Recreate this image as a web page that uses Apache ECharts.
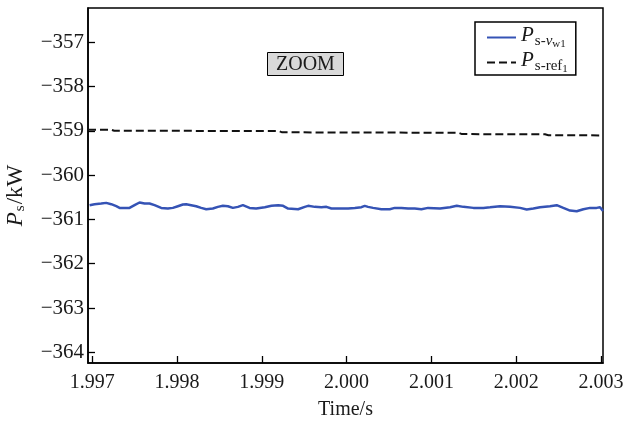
<!DOCTYPE html>
<html>
<head>
<meta charset="utf-8">
<script src="https://cdn.jsdelivr.net/npm/echarts@6/dist/echarts.min.js"></script>
<style>
  html, body { margin: 0; padding: 0; background: #fff; }
  #chart { width: 623px; height: 428px; }
</style>
</head>
<body>
<div id="chart"></div>
<script>
// Time samples (s) and measured power (kW) of the v_w1 case
const timeVw1 = [
  1.996969, 1.997027, 1.997106, 1.997165, 1.997224, 1.997283, 1.997322, 1.997440,
  1.997499, 1.997558, 1.997617, 1.997676, 1.997735, 1.997813, 1.997892, 1.997951,
  1.998010, 1.998069, 1.998108, 1.998167, 1.998226, 1.998285, 1.998344, 1.998423,
  1.998482, 1.998541, 1.998600, 1.998659, 1.998718, 1.998777, 1.998855, 1.998933,
  1.999035, 1.999114, 1.999193, 1.999251, 1.999310, 1.999428, 1.999507, 1.999546,
  1.999625, 1.999703, 1.999762, 1.999821, 1.999939, 2.000018, 2.000097, 2.000175,
  2.000214, 2.000253, 2.000312, 2.000410, 2.000509, 2.000568, 2.000646, 2.000725,
  2.000804, 2.000882, 2.000961, 2.001102, 2.001220, 2.001299, 2.001377, 2.001495,
  2.001613, 2.001692, 2.001810, 2.001928, 2.002046, 2.002124, 2.002203, 2.002281,
  2.002399, 2.002478, 2.002556, 2.002635, 2.002714, 2.002792, 2.002871, 2.002949,
  2.002989, 2.003024
];
const powerVw1 = [
  -360.679, -360.657, -360.642, -360.627, -360.657, -360.702, -360.740, -360.740,
  -360.679, -360.619, -360.642, -360.642, -360.679, -360.740, -360.755, -360.740,
  -360.702, -360.664, -360.657, -360.679, -360.702, -360.740, -360.770, -360.755,
  -360.717, -360.694, -360.702, -360.740, -360.717, -360.679, -360.740, -360.755,
  -360.725, -360.694, -360.679, -360.694, -360.755, -360.770, -360.717, -360.694,
  -360.717, -360.725, -360.717, -360.755, -360.755, -360.755, -360.740, -360.725,
  -360.694, -360.717, -360.740, -360.770, -360.770, -360.740, -360.740, -360.755,
  -360.755, -360.770, -360.740, -360.755, -360.725, -360.694, -360.717, -360.740,
  -360.740, -360.725, -360.702, -360.717, -360.740, -360.777, -360.755, -360.725,
  -360.702, -360.679, -360.740, -360.800, -360.815, -360.770, -360.740, -360.740,
  -360.725, -360.810
];

// Reference power (kW), a slowly stepping set-point
const timeRef = [
  1.996950, 1.997220, 1.997260, 1.999200, 1.999240, 2.000300, 2.001320, 2.001360,
  2.002340, 2.002380, 2.003024
];
const powerRef = [
  -358.975, -358.975, -359.000, -359.005, -359.035, -359.040, -359.045, -359.075,
  -359.080, -359.100, -359.105
];

// Axis ticks
const xTicks = [1.997, 1.998, 1.999, 2.000, 2.001, 2.002, 2.003];
const yTicks = [-364, -363, -362, -361, -360, -359, -358, -357];

const pairUp = (xs, ys) => xs.map((x, i) => [x, ys[i]]);

const SERIF = '"Liberation Serif", "DejaVu Serif", serif';
const INK = '#1a1a1a';

const chart = echarts.init(document.getElementById('chart'), null, { renderer: 'canvas' });

// Legend labels: italic P sits at the top of the row, subscripts sink to its bottom
const LH = 25;
const subRich = {
  p:  { fontFamily: SERIF, fontStyle: 'italic', fontSize: 21, color: INK, lineHeight: LH, verticalAlign: 'top' },
  s:  { fontFamily: SERIF, fontSize: 15, color: INK, lineHeight: LH, verticalAlign: 'bottom', padding: [0, 0, 1, 1] },
  si: { fontFamily: SERIF, fontSize: 15, fontStyle: 'italic', color: INK, lineHeight: LH, verticalAlign: 'bottom', padding: [0, 0, 1, 0] },
  ss: { fontFamily: SERIF, fontSize: 11, color: INK, lineHeight: LH, verticalAlign: 'bottom' }
};

chart.setOption({
  animation: false,
  backgroundColor: '#fff',
  title: {
    text: 'ZOOM',
    left: 267,
    top: 52,
    padding: [2, 9, 1, 9],
    backgroundColor: '#d9d9d9',
    borderColor: '#000',
    borderWidth: 1,
    textStyle: { fontFamily: SERIF, fontSize: 20, fontWeight: 'normal', color: INK, lineHeight: 21 }
  },
  legend: {
    orient: 'vertical',
    left: 475,
    top: 22,
    padding: [3, 8, 0, 11],
    itemGap: 0,
    itemWidth: 29,
    itemHeight: 14,
    borderColor: '#000',
    borderWidth: 1.5,
    backgroundColor: '#fff',
    itemStyle: { opacity: 0 },
    data: ['Ps-vw1', 'Ps-ref1'],
    formatter: (name) => name === 'Ps-vw1'
      ? '{p|P}{s|s-}{si|v}{ss|w1}'
      : '{p|P}{s|s-ref}{ss|1}',
    textStyle: { rich: subRich }
  },
  grid: {
    left: 88, top: 8, right: 20, bottom: 65,
    containLabel: false,
    outerBoundsMode: 'none',
    show: true,
    borderColor: '#000',
    borderWidth: 1.5
  },
  xAxis: {
    type: 'value',
    min: 1.99695,
    max: 2.003024,
    name: 'Time/s',
    nameLocation: 'middle',
    nameGap: 37,
    nameTextStyle: { fontFamily: SERIF, fontSize: 20, color: INK },
    axisLine: { lineStyle: { color: '#000', width: 1.5 } },
    axisTick: { inside: true, length: 7, customValues: xTicks, lineStyle: { color: '#000', width: 1.3 } },
    axisLabel: {
      customValues: xTicks,
      margin: 10,
      fontFamily: SERIF, fontSize: 20, color: INK,
      formatter: (v) => v.toFixed(3)
    },
    splitLine: { show: false }
  },
  yAxis: {
    type: 'value',
    min: -364.24,
    max: -356.23,
    name: '{p|P}{s|s}{u|/kW}',
    nameLocation: 'middle',
    nameGap: 60,
    nameRotate: 90,
    nameTextStyle: {
      padding: [0, 20, 0, 0],
      rich: {
        p: { fontFamily: SERIF, fontStyle: 'italic', fontSize: 23, color: INK },
        s: { fontFamily: SERIF, fontSize: 15, color: INK, padding: [10, 1, 0, 1] },
        u: { fontFamily: SERIF, fontSize: 23, color: INK }
      }
    },
    axisLine: { lineStyle: { color: '#000', width: 1.5 } },
    axisTick: { inside: true, length: 7, customValues: yTicks, lineStyle: { color: '#000', width: 1.3 } },
    axisLabel: {
      customValues: yTicks,
      margin: 4,
      fontFamily: SERIF, fontSize: 21, color: INK,
      formatter: (v) => (v < 0 ? '\u2212' : '') + Math.abs(v)
    },
    splitLine: { show: false }
  },
  series: [
    {
      name: 'Ps-vw1',
      type: 'line',
      data: pairUp(timeVw1, powerVw1),
      symbol: 'none',
      lineStyle: { color: '#3553b5', width: 2.5 },
      itemStyle: { color: '#3553b5' }
    },
    {
      name: 'Ps-ref1',
      type: 'line',
      data: pairUp(timeRef, powerRef),
      symbol: 'none',
      lineStyle: { color: '#111', width: 2, type: [8, 4] },
      itemStyle: { color: '#111' }
    }
  ]
});
</script>
</body>
</html>
